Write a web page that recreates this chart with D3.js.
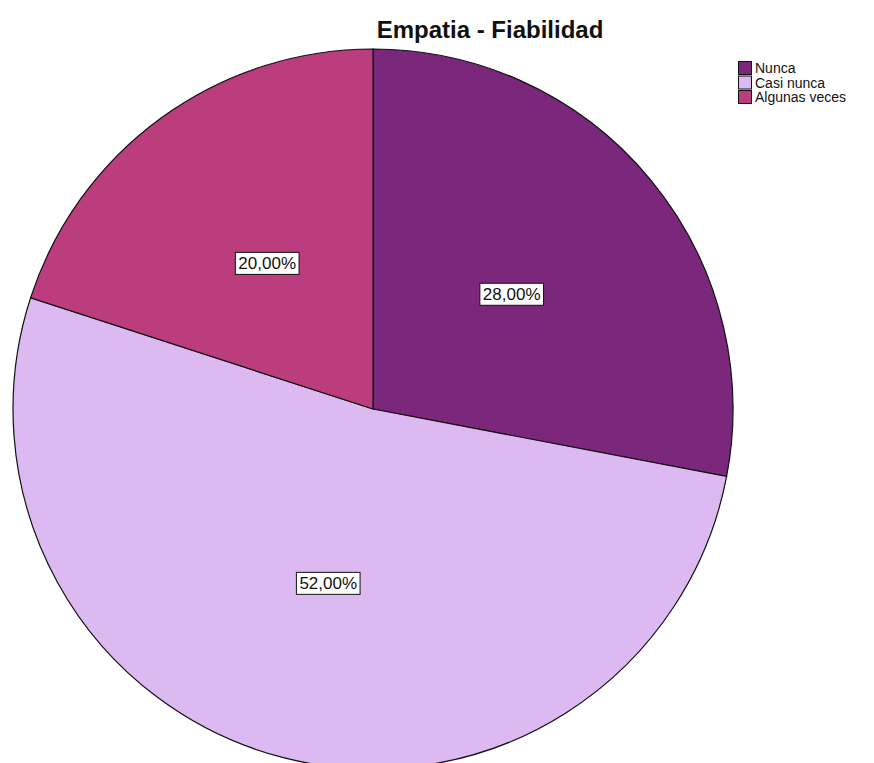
<!DOCTYPE html>
<html>
<head>
<meta charset="utf-8">
<script src="https://cdn.jsdelivr.net/npm/d3@7"></script>
<style>
  html, body { margin: 0; padding: 0; background: #fff; }
  svg { display: block; font-family: Arial, "Liberation Sans", sans-serif; }
</style>
</head>
<body>
<svg id="chart" width="874" height="763"></svg>
<script>
// Response categories and their shares (%)
const categories = ["Nunca", "Casi nunca", "Algunas veces"];
const percentages = [28, 52, 20];
const colors = ["#7b277c", "#dcb9f1", "#bb3d7d"];
const chartTitle = "Empatia - Fiabilidad";

const svg = d3.select("#chart");
const cx = 373, cy = 409, radius = 360;

const data = categories.map((c, i) => ({ category: c, value: percentages[i] }));

const color = d3.scaleOrdinal().domain(categories).range(colors);

const pie = d3.pie()
  .value(d => d.value)
  .sort(null)
  .startAngle(0)
  .endAngle(2 * Math.PI);

const arc = d3.arc().innerRadius(0).outerRadius(radius);
const labelArc = d3.arc().innerRadius(radius * 0.5).outerRadius(radius * 0.5);

const g = svg.append("g").attr("transform", `translate(${cx},${cy})`);

const arcs = pie(data);

g.selectAll("path.slice")
  .data(arcs)
  .join("path")
  .attr("class", "slice")
  .attr("d", arc)
  .attr("fill", d => color(d.data.category))
  .attr("stroke", "#111")
  .attr("stroke-width", 1.2);

// Percentage labels in boxed tags
const fmt = v => d3.format(".2f")(v).replace(".", ",") + "%";

const labels = g.selectAll("g.lbl")
  .data(arcs)
  .join("g")
  .attr("class", "lbl")
  .attr("transform", d => `translate(${labelArc.centroid(d)})`);

labels.append("text")
  .attr("text-anchor", "middle")
  .attr("dominant-baseline", "central")
  .attr("font-size", 17)
  .attr("fill", "#111")
  .text(d => fmt(d.data.value));

labels.each(function() {
  const gl = d3.select(this);
  const bb = gl.select("text").node().getBBox();
  gl.insert("rect", "text")
    .attr("x", bb.x - 3)
    .attr("y", bb.y - 1.5)
    .attr("width", bb.width + 6)
    .attr("height", bb.height + 3)
    .attr("fill", "#fff")
    .attr("stroke", "#111")
    .attr("stroke-width", 1);
});

// Title
svg.append("text")
  .attr("x", 490)
  .attr("y", 38)
  .attr("text-anchor", "middle")
  .attr("font-size", 24)
  .attr("font-weight", "bold")
  .attr("fill", "#111")
  .text(chartTitle);

// Legend
const legend = svg.append("g").attr("transform", "translate(738,61)");
const step = 14.5;
const items = legend.selectAll("g.item")
  .data(categories)
  .join("g")
  .attr("class", "item")
  .attr("transform", (d, i) => `translate(0,${i * step})`);

items.append("rect")
  .attr("x", 0.5).attr("y", 0.5)
  .attr("width", 13).attr("height", 13)
  .attr("fill", d => color(d))
  .attr("stroke", "#111")
  .attr("stroke-width", 1);

items.append("text")
  .attr("x", 17)
  .attr("y", 7)
  .attr("dominant-baseline", "central")
  .attr("font-size", 14)
  .attr("fill", "#111")
  .text(d => d);
</script>
</body>
</html>
